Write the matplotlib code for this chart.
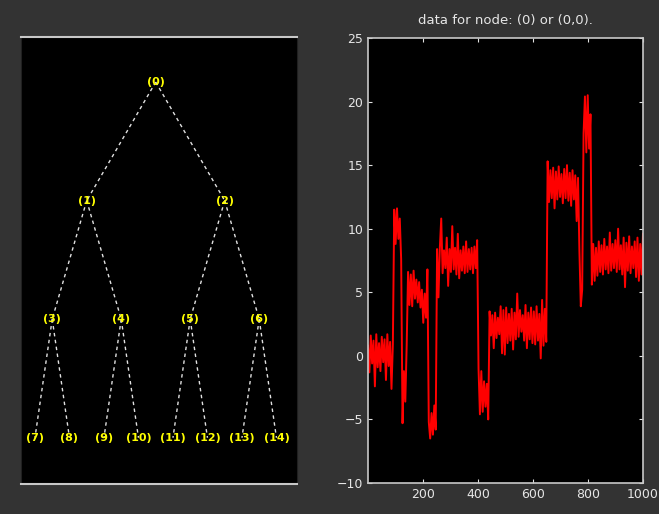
import numpy as np
import matplotlib
matplotlib.use("Agg")
from matplotlib import pyplot as plt

# wavelet packet tree: node labels by depth
depth = 3
node_labels = ["(%d)" % i for i in range(2 ** (depth + 1) - 1)]

# noisy blocks signal (one value per ~5 samples)
seg1 = [0.8, -1.3, 1.6, -0.6, 1.2, -2.4, 1.7, -0.9, 1.0, -1.2,
        1.5, -0.5, 1.3, -1.9, 1.7, -0.8, 1.1, -2.6, 0.9]
seg2 = [11.5, 8.8, 11.6, 9.2, 10.8, 7.6]
seg3 = [-5.3, -1.2, -3.6, 0.8]
seg4 = [6.6, 4.0, 6.4, 3.9, 6.7, 4.5, 6.0, 4.2, 5.8, 3.8, 5.2, 2.6, 4.9, 3.0, 6.8]
seg5 = [-5.2, -6.5, -4.5, -6.2, -3.9, -5.8]
seg6 = [8.4, 4.6, 8.5, 10.8, 6.5, 8.3, 6.9, 9.3, 5.5, 8.4,
        6.6, 10.2, 6.8, 8.5, 6.4, 9.6, 6.1, 8.3, 6.7, 8.6,
        6.5, 9.0, 6.6, 8.4, 6.8, 8.5, 6.5, 8.6, 6.9, 9.1]
seg7 = [-1.0, -4.6, -1.2, -4.4, -2.0, -4.0, -2.2, -5.0]
seg8 = [3.5, 1.6, 3.2, 0.6, 3.4, 1.4, 3.0, 1.7, 3.9, 0.2,
        3.6, 0.1, 3.8, 1.0, 3.3, 1.2, 3.7, 0.5, 3.4, 1.3,
        4.9, 1.5, 3.6, 1.9, 3.2, 1.2, 4.0, 0.6, 3.4, 1.3,
        3.8, 1.0, 3.5, 0.9, 3.9, 1.2, 3.3, -0.2, 4.4, 0.8,
        3.7, 1.1]
seg9 = [15.3, 12.1, 14.6, 12.4, 14.8, 11.6, 14.5, 12.3, 14.9, 12.5,
        14.3, 12.0, 14.7, 12.4, 15.0, 12.2, 14.4, 11.8, 14.6, 12.3,
        14.2, 10.6, 14.0]
seg10 = [8.2, 3.9, 5.2]
seg11 = [17.5, 20.4, 16.0, 20.5, 16.3, 19.0]
seg12 = [5.6, 8.8, 5.9, 8.5, 6.3, 9.0, 6.6, 8.7, 6.4, 9.2,
         6.8, 8.6, 6.5, 9.7, 6.7, 8.8, 6.9, 9.1, 6.6, 10.0,
         6.8, 8.7, 6.4, 9.3, 5.4, 8.9, 6.7, 9.4, 6.5, 8.6,
         6.9, 9.0, 6.2, 9.3, 5.9, 8.8, 6.4, 9.6]

signal = seg1 + seg2 + seg3 + seg4 + seg5 + seg6 + seg7 + seg8 + seg9 + seg10 + seg11 + seg12
n_samples = 1000
x_ticks = [200, 400, 600, 800, 1000]
y_ticks = [-10, -5, 0, 5, 10, 15, 20, 25]

bg = '#333333'
fg = '#e6e6e6'

fig = plt.figure(figsize=(6.59, 5.14), dpi=100, facecolor=bg)

# ---- tree panel
ax1 = fig.add_axes([0.0319, 0.0584, 0.4188, 0.8696])
ax1.set_facecolor('black')
pos = {}
k = 0
for d in range(depth + 1):
    for j in range(2 ** d):
        pos[k] = ((2 * j + 1) / 2 ** (d + 1), d)
        k += 1
for i in range(len(node_labels)):
    if 2 * i + 2 < len(node_labels):
        for c in (2 * i + 1, 2 * i + 2):
            ax1.plot([pos[i][0], pos[c][0]], [pos[i][1], pos[c][1]],
                     color='#e0e0e0', lw=1, ls=(0, (2.5, 2.5)), zorder=1)
for i, lab in enumerate(node_labels):
    ax1.text(pos[i][0], pos[i][1], lab, color='#ffff00', fontsize=8,
             fontweight='bold', ha='center', va='center', zorder=3)
ax1.set_xlim(0.012, 1.012)
ax1.set_ylim(3.39, -0.38)
ax1.set_xticks([])
ax1.set_yticks([])
for s in ['left', 'right']:
    ax1.spines[s].set_color('#202020')
for s in ['top', 'bottom']:
    ax1.spines[s].set_color('#c8c8c8')
    ax1.spines[s].set_linewidth(1.5)

# ---- signal panel
ax2 = fig.add_axes([0.5584, 0.0603, 0.4173, 0.8658])
ax2.set_facecolor('black')
xs = np.linspace(1, n_samples, len(signal))
ax2.plot(xs, signal, color='#ff0000', lw=1.4)
ax2.set_xlim(1, n_samples)
ax2.set_ylim(-10, 25)
ax2.set_xticks(x_ticks)
ax2.set_yticks(y_ticks)
ax2.tick_params(direction='in', length=3, colors='#e0e0e0', labelcolor=fg,
                labelsize=9, top=True, right=True)
for s in ax2.spines.values():
    s.set_color('#c8c8c8')
    s.set_linewidth(1.2)
ax2.set_title("data for node: (0) or (0,0).", color=fg, fontsize=9.5, pad=10)

fig.savefig("out.png", dpi=100, facecolor=bg)
